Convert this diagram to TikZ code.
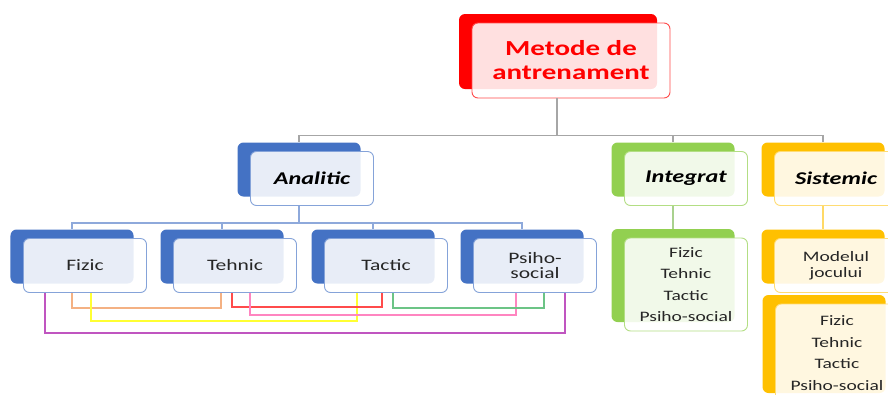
\documentclass[tikz,border=0pt]{standalone}
\usepackage{fontspec}
\setmainfont{Carlito}[FakeStretch=1.35]
\definecolor{topred}{HTML}{FF0000}
\definecolor{anablue}{HTML}{4472C4}
\definecolor{intgreen}{HTML}{92D050}
\definecolor{sisgold}{HTML}{FFC000}
\definecolor{treegray}{HTML}{A6A6A6}
\definecolor{analine}{HTML}{8EA9DB}
\definecolor{intline}{HTML}{A9D18E}
\definecolor{sisline}{HTML}{FFD966}
\definecolor{linkorange}{HTML}{F4B183}
\definecolor{linkyellow}{HTML}{FFFF33}
\definecolor{linkpurple}{HTML}{C055C0}
\definecolor{linkred}{HTML}{FF4B4B}
\definecolor{linkpink}{HTML}{FF85C0}
\definecolor{linkgreen}{HTML}{6CC486}
\definecolor{textgray}{HTML}{262626}

\tikzset{
  frontbox/.style={draw=#1, line width=0.9bp, rounded corners=6bp, fill=white,
    fill opacity=0.88, text opacity=1, inner sep=0pt, align=center,
    minimum width=123bp, minimum height=54bp, text=textgray},
  backbox/.style={preaction={draw=none, fill=#1, fill opacity=1,
    transform canvas={shift={(-13bp,9bp)}}}},
  redbox/.style={frontbox=topred!70, backbox=topred},
  bluebox/.style={frontbox=anablue!65, backbox=anablue},
  greenbox/.style={frontbox=intgreen!70, backbox=intgreen},
  goldbox/.style={frontbox=sisgold!55, backbox=sisgold},
  titlefont/.style={font=\fontsize{18}{22}\selectfont\bfseries\itshape, text=black},
  itemfont/.style={font=\fontsize{16}{16}\selectfont},
  listfont/.style={font=\fontsize{14.5}{21.5}\selectfont},
  treeline/.style={draw=#1, line width=1.2bp},
  linkline/.style={draw=#1, line width=1.5bp}
}

\begin{document}
\begin{tikzpicture}[x=1bp,y=-1bp]
  \clip (0,0) rectangle (888,394);

  \node[redbox, minimum width=198bp, minimum height=75bp, text=topred,
        font=\fontsize{21.5}{24}\selectfont\bfseries] (metode) at (571,60.5) {Metode de\\antrenament};

  \node[bluebox, titlefont] (analitic) at (312,178.5) {Analitic};
  \node[greenbox, titlefont] (integrat) at (686,178.5) {Integrat};
  \node[goldbox, titlefont] (sistemic) at (836,178.5) {Sistemic};

  \node[bluebox, itemfont] (fizic) at (85,265.5) {Fizic};
  \node[bluebox, itemfont] (tehnic) at (235,265.5) {Tehnic};
  \node[bluebox, itemfont] (tactic) at (386,265.5) {Tactic};
  \node[bluebox, itemfont] (psiho) at (535,265.5) {Psiho-\\social};

  \node[greenbox, listfont, minimum height=93bp] (intlist) at (686,284.5) {Fizic\\Tehnic\\Tactic\\Psiho-social};
  \node[goldbox, font=\fontsize{14.5}{16}\selectfont] (modelul) at (836,265.5) {Modelul\\jocului};
  \node[goldbox, listfont, minimum height=98bp] (sislist) at (837,353) {Fizic\\Tehnic\\Tactic\\Psiho-social};

  \draw[treeline=treegray] ([xshift=-14bp]metode.south) -- ++(0,37) -| ([shift={(-13bp,9bp)}]analitic.north);
  \draw[treeline=treegray] ([xshift=-14bp]metode.south) -- ++(0,37) -| ([shift={(-13bp,9bp)}]integrat.north);
  \draw[treeline=treegray] ([xshift=-14bp]metode.south) -- ++(0,37) -| ([shift={(-13bp,9bp)}]sistemic.north);

  \draw[treeline=analine] ([xshift=-13bp]analitic.south) -- ++(0,17) -| ([shift={(-13bp,9bp)}]fizic.north);
  \draw[treeline=analine] ([xshift=-13bp]analitic.south) -- ++(0,17) -| ([shift={(-13bp,9bp)}]tehnic.north);
  \draw[treeline=analine] ([xshift=-13bp]analitic.south) -- ++(0,17) -| ([shift={(-13bp,9bp)}]tactic.north);
  \draw[treeline=analine] ([xshift=-13bp]analitic.south) -- ++(0,17) -| ([shift={(-13bp,9bp)}]psiho.north);

  \draw[treeline=intline] ([xshift=-13bp]integrat.south) -- ([shift={(-13bp,9bp)}]intlist.north);
  \draw[treeline=sisline] ([xshift=-13bp]sistemic.south) -- ([shift={(-13bp,9bp)}]modelul.north);

  \draw[linkline=linkorange] ([xshift=-13bp]fizic.south) -- ++(0,15) -| ([xshift=-14bp]tehnic.south);
  \draw[linkline=linkyellow] ([xshift=6bp]fizic.south) -- ++(0,28) -| ([xshift=-29bp]tactic.south);
  \draw[linkline=linkpurple] ([xshift=-40bp]fizic.south) -- ++(0,40) -| ([xshift=30bp]psiho.south);
  \draw[linkline=linkred] ([xshift=-3bp]tehnic.south) -- ++(0,14) -| ([xshift=-4bp]tactic.south);
  \draw[linkline=linkpink] ([xshift=15bp]tehnic.south) -- ++(0,22) -| ([xshift=-19bp]psiho.south);
  \draw[linkline=linkgreen] ([xshift=7bp]tactic.south) -- ++(0,15) -| ([xshift=9bp]psiho.south);
\end{tikzpicture}
\end{document}
